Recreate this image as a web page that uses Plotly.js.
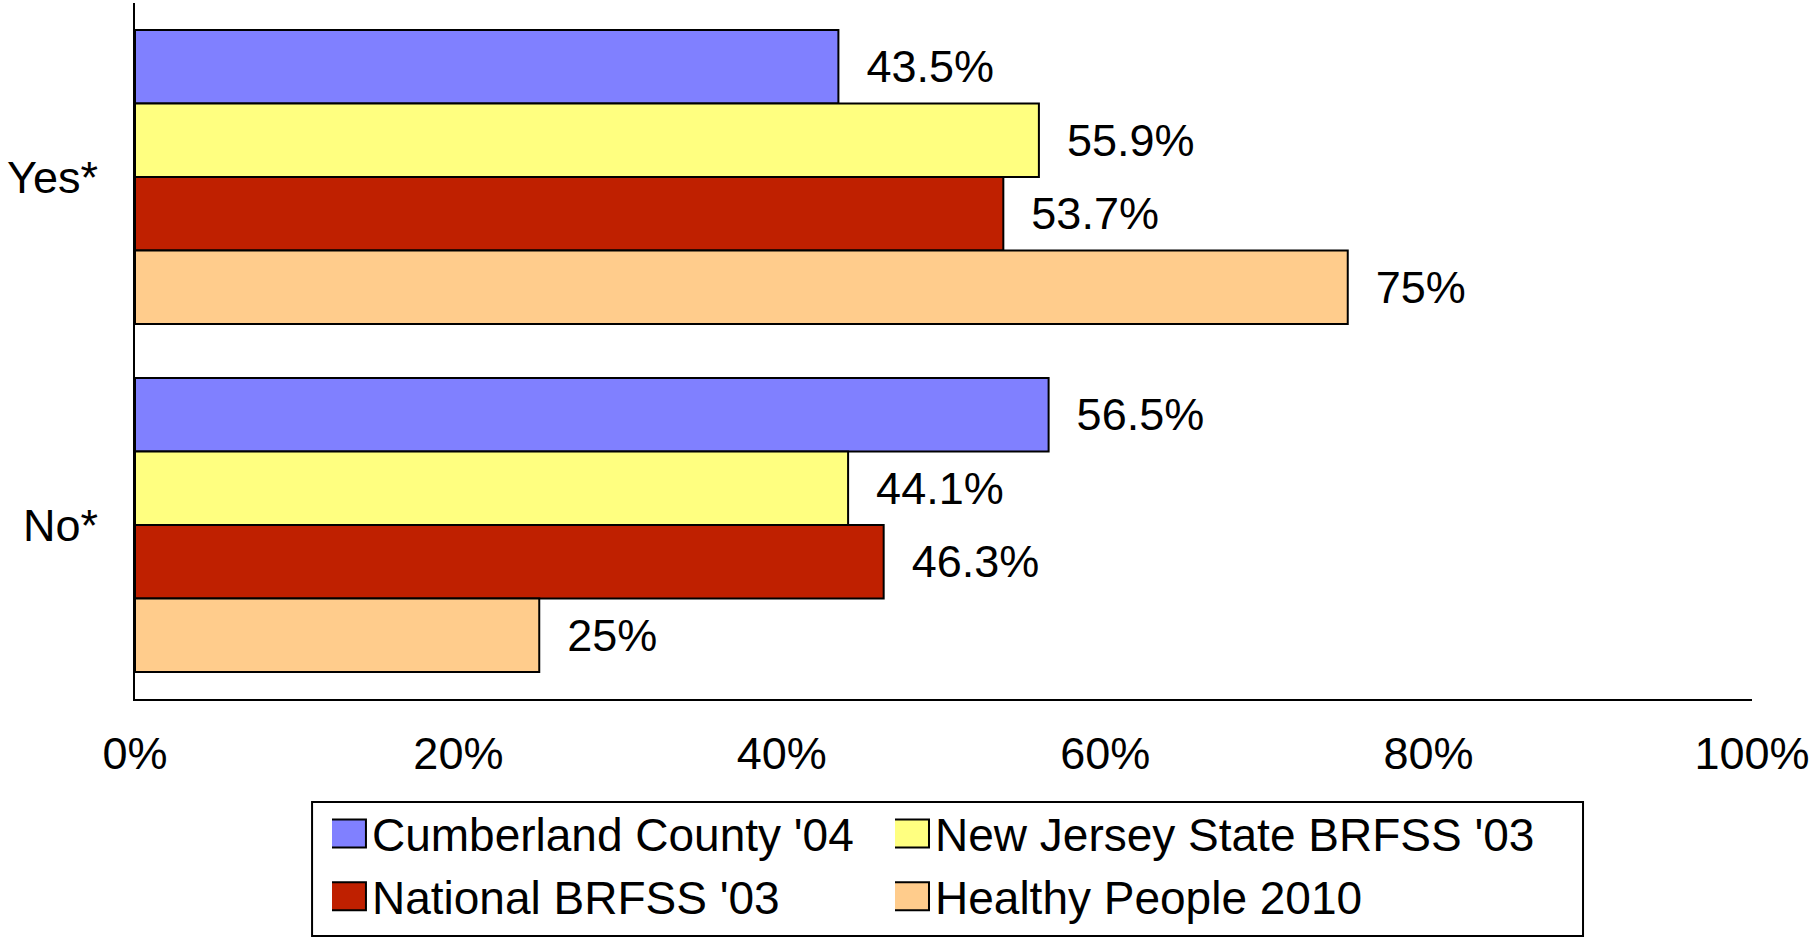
<!DOCTYPE html>
<html>
<head>
<meta charset="utf-8">
<script src="https://cdn.plot.ly/plotly-3.0.1.min.js"></script>
<style>
html,body{margin:0;padding:0;background:#fff;}
#chart{width:1812px;height:937px;}
</style>
</head>
<body>
<div id="chart"></div>
<script>
const categories = ["Yes*", "No*"];
const seriesNames = ["Cumberland County '04", "New Jersey State BRFSS '03", "National BRFSS '03", "Healthy People 2010"];
const cumberland = [43.5, 56.5];
const newJersey = [55.9, 44.1];
const national = [53.7, 46.3];
const healthyPeople = [75, 25];
const xTickVals = [0, 20, 40, 60, 80, 100];
const xTickText = ["0%", "20%", "40%", "60%", "80%", "100%"];

const colors = ["#8080FF", "#FFFF80", "#BF2000", "#FFCC8C"];
const legendIds = ["legend", "legend2", "legend", "legend2"];
const allValues = [cumberland, newJersey, national, healthyPeople];
const FONT = "Liberation Sans, Arial, sans-serif";

const traces = allValues.map((vals, i) => ({
  type: "bar",
  orientation: "h",
  name: seriesNames[i],
  legend: legendIds[i],
  legendgroup: "g" + i,
  y: categories,
  x: vals,
  text: vals.map(v => "\u00a0\u00a0" + v + "%"),
  textposition: "outside",
  textfont: {family: FONT, size: 45, color: "#000"},
  constraintext: "none",
  cliponaxis: false,
  hoverinfo: "skip",
  marker: {color: colors[i], line: {color: "#000", width: 2}}
}));

const legendCommon = {
  orientation: "v",
  yanchor: "top",
  xanchor: "left",
  bgcolor: "rgba(0,0,0,0)",
  borderwidth: 0,
  font: {family: FONT, size: 46, color: "#000"},
  tracegroupgap: 3,
  traceorder: "normal",
  itemclick: false, itemdoubleclick: false
};

const layout = {
  width: 1812, height: 937,
  paper_bgcolor: "#fff", plot_bgcolor: "#fff",
  margin: {l: 135, r: 60, t: 3, b: 238, autoexpand: false},
  barmode: "group",
  bargap: 0.155,
  bargroupgap: 0,
  font: {family: FONT, size: 45, color: "#000"},
  showlegend: true,
  xaxis: {
    range: [0, 100],
    tickvals: xTickVals,
    ticktext: xTickText,
    showgrid: false, zeroline: false,
    showline: true, linecolor: "#000", linewidth: 2,
    ticks: "", ticklabelstandoff: 14,
    tickfont: {family: FONT, size: 45, color: "#000"},
    fixedrange: true
  },
  yaxis: {
    type: "category",
    categoryorder: "array", categoryarray: categories,
    range: [1.5, -0.5],
    showgrid: false, zeroline: false,
    showline: true, linecolor: "#000", linewidth: 2,
    ticks: "", ticklabelstandoff: 26,
    tickfont: {family: FONT, size: 45, color: "#000"},
    fixedrange: true
  },
  legend: Object.assign({}, legendCommon, {x: 0.1218, y: -0.1408}),
  legend2: Object.assign({}, legendCommon, {x: 0.470, y: -0.1408}),
  shapes: [{
    type: "rect", xref: "paper", yref: "paper",
    x0: 0.1095, x1: 0.8955, y0: -0.148, y1: -0.3405,
    line: {color: "#000", width: 2}, fillcolor: "rgba(0,0,0,0)", layer: "below"
  }]
};

Plotly.newPlot("chart", traces, layout, {displayModeBar: false, staticPlot: true}).then(gd => {
  gd.querySelectorAll(".legendpoints path").forEach(p => {
    p.setAttribute("transform", "translate(13,0) scale(3.5,2.33)");
    p.style.vectorEffect = "non-scaling-stroke";
    p.style.strokeWidth = "2px";
    p.style.stroke = "#000";
  });
});
</script>
</body>
</html>
